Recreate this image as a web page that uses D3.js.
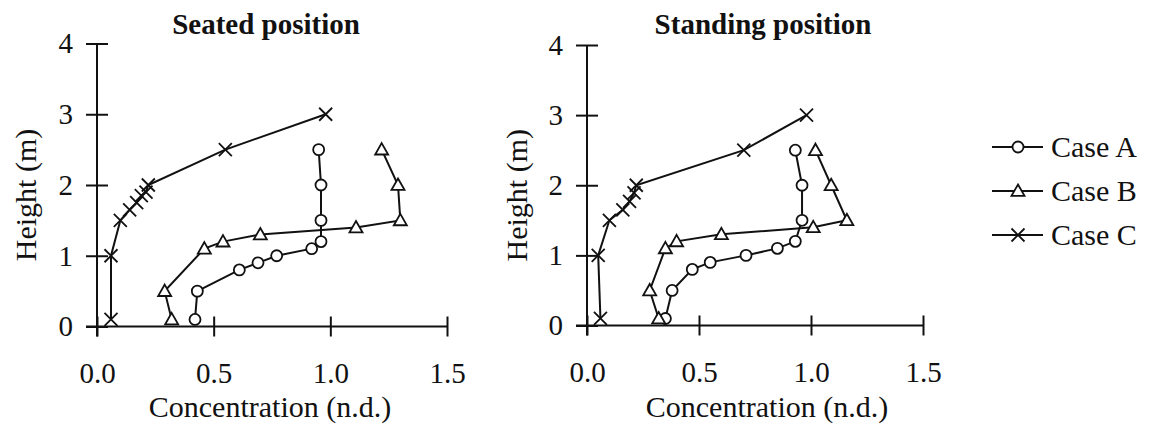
<!DOCTYPE html>
<html><head><meta charset="utf-8">
<script src="https://cdn.jsdelivr.net/npm/d3@7"></script>
<style>body{margin:0;background:#fff}svg{display:block}text{font-family:"Liberation Serif","Times New Roman",serif;fill:#111}</style>
</head><body><svg id="c" width="1152" height="436"></svg>
<script>
const panelTitles = ["Seated position", "Standing position"];
const seriesNames = ["Case A", "Case B", "Case C"];
const xTicks = [0.0, 0.5, 1.0, 1.5];
const yTicks = [0, 1, 2, 3, 4];
const xLabel = "Concentration (n.d.)";
const yLabel = "Height (m)";

// Seated position
const seatedA_h = [0.1, 0.5, 0.8, 0.9, 1.0, 1.1, 1.2, 1.5, 2.0, 2.5];
const seatedA_c = [0.42, 0.43, 0.61, 0.69, 0.77, 0.92, 0.96, 0.96, 0.96, 0.95];
const seatedB_h = [0.1, 0.5, 1.1, 1.2, 1.3, 1.4, 1.5, 2.0, 2.5];
const seatedB_c = [0.32, 0.29, 0.46, 0.54, 0.70, 1.11, 1.30, 1.29, 1.22];
const seatedC_h = [0.1, 1.0, 1.5, 1.65, 1.75, 1.85, 1.9, 2.0, 2.5, 3.0];
const seatedC_c = [0.06, 0.06, 0.10, 0.14, 0.17, 0.19, 0.21, 0.22, 0.55, 0.98];
// Standing position
const standingA_h = [0.1, 0.5, 0.8, 0.9, 1.0, 1.1, 1.2, 1.5, 2.0, 2.5];
const standingA_c = [0.35, 0.38, 0.47, 0.55, 0.71, 0.85, 0.93, 0.96, 0.96, 0.93];
const standingB_h = [0.1, 0.5, 1.1, 1.2, 1.3, 1.4, 1.5, 2.0, 2.5];
const standingB_c = [0.32, 0.28, 0.35, 0.40, 0.60, 1.01, 1.16, 1.09, 1.02];
const standingC_h = [0.1, 1.0, 1.5, 1.65, 1.77, 1.89, 2.0, 2.5, 3.0];
const standingC_c = [0.06, 0.05, 0.10, 0.16, 0.19, 0.21, 0.22, 0.70, 0.98];

const panels = [
  {title: panelTitles[0], x0: 97, x1: 447, y0: 326.5, y1: 43.5, tx: 266, ax: 36,
   series: [[seatedA_c, seatedA_h], [seatedB_c, seatedB_h], [seatedC_c, seatedC_h]]},
  {title: panelTitles[1], x0: 587, x1: 923, y0: 325.5, y1: 45, tx: 763, ax: 527,
   series: [[standingA_c, standingA_h], [standingB_c, standingB_h], [standingC_c, standingC_h]]}
];
const shapes = ["circle", "triangle", "cross"];
const svg = d3.select("#c");
const INK = "#111";
const FONT = '"Liberation Serif", "Times New Roman", serif';

function marker(g, shape, x, y) {
  if (shape === "circle") {
    g.append("circle").attr("cx", x).attr("cy", y).attr("r", 5.5)
      .attr("fill", "#fff").attr("stroke", INK).attr("stroke-width", 1.8);
  } else if (shape === "triangle") {
    const s = 6.5;
    g.append("path").attr("d", `M${x},${y - s}L${x + s},${y + s * 0.75}L${x - s},${y + s * 0.75}Z`)
      .attr("fill", "#fff").attr("stroke", INK).attr("stroke-width", 1.8);
  } else {
    const s = 6.5;
    g.append("path").attr("d", `M${x - s},${y - s}L${x + s},${y + s}M${x - s},${y + s}L${x + s},${y - s}`)
      .attr("fill", "none").attr("stroke", INK).attr("stroke-width", 1.8);
  }
}

panels.forEach(p => {
  const x = d3.scaleLinear().domain([0, 1.5]).range([p.x0, p.x1]);
  const y = d3.scaleLinear().domain([0, 4]).range([p.y0, p.y1]);
  const g = svg.append("g");

  // x axis
  const xa = g.append("g").attr("transform", `translate(0,${p.y0})`)
    .call(d3.axisBottom(x).tickValues(xTicks).tickFormat(d3.format(".1f")).tickSize(10).tickPadding(26));
  xa.attr("font-size", 29).attr("font-family", FONT);
  xa.select(".domain").attr("d", `M${p.x0 - 11},0H${p.x1}`).attr("stroke", INK).attr("stroke-width", 2);
  xa.selectAll(".tick line").attr("y1", -10).attr("y2", 10).attr("stroke", INK).attr("stroke-width", 2);
  xa.selectAll(".tick text").attr("fill", INK).attr("dy", "0.71em");

  // y axis
  const ya = g.append("g").attr("transform", `translate(${p.x0},0)`)
    .call(d3.axisLeft(y).tickValues(yTicks).tickFormat(d3.format("d")).tickSize(11).tickPadding(13));
  ya.attr("font-size", 29).attr("font-family", FONT);
  ya.select(".domain").attr("d", `M0,${p.y1}V${p.y0 + 10}`).attr("stroke", INK).attr("stroke-width", 2);
  ya.selectAll(".tick line").attr("x1", -11).attr("x2", 11).attr("stroke", INK).attr("stroke-width", 2);
  ya.selectAll(".tick text").attr("fill", INK);

  // titles
  g.append("text").attr("x", p.tx).attr("y", 34).attr("text-anchor", "middle")
    .attr("font-size", 29).attr("font-weight", "bold").text(p.title);
  g.append("text").attr("x", p.tx + 4).attr("y", 417).attr("text-anchor", "middle")
    .attr("font-size", 30).text(xLabel);
  g.append("text").attr("transform", `translate(${p.ax},${(p.y0 + p.y1) / 2 + 10}) rotate(-90)`)
    .attr("text-anchor", "middle").attr("font-size", 30).text(yLabel);

  const line = d3.line().x(d => x(d[0])).y(d => y(d[1]));
  p.series.forEach((s, i) => {
    const pts = s[0].map((c, k) => [c, s[1][k]]);
    g.append("path").attr("d", line(pts)).attr("fill", "none")
      .attr("stroke", INK).attr("stroke-width", 2);
    pts.forEach(d => marker(g, shapes[i], x(d[0]), y(d[1])));
  });
});

// legend
const legY = d3.scalePoint().domain(seriesNames).range([147, 235]);
const lg = svg.append("g");
seriesNames.forEach((n, i) => {
  const yy = legY(n);
  lg.append("line").attr("x1", 992).attr("x2", 1043).attr("y1", yy).attr("y2", yy)
    .attr("stroke", INK).attr("stroke-width", 2);
  marker(lg, shapes[i], 1018, yy);
  lg.append("text").attr("x", 1051).attr("y", yy + 10).attr("font-size", 30).text(n);
});
</script></body></html>
